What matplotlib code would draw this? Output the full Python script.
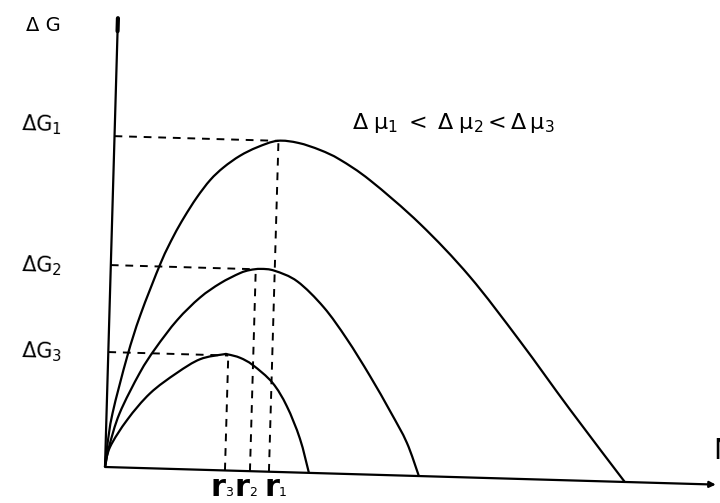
import matplotlib
matplotlib.use("Agg")
import matplotlib.pyplot as plt
from matplotlib.path import Path
from matplotlib.patches import PathPatch
from matplotlib.transforms import Affine2D

# values, in chart units (pixels along the tilted axes)
n1 = [0, 1.5, 6, 19, 31, 50, 62, 72, 84, 97, 110, 126, 143, 163, 184, 206, 226, 257, 308, 359, 411, 463, 520]
g1 = [0, 20, 54, 111, 153, 206, 233, 252, 272, 290, 303, 315, 324, 331, 329.5, 323, 314, 294, 252, 201, 138, 71, 0]

n2 = [0, 3.4, 13, 32, 47, 68, 90, 110, 129, 139, 150, 164, 187, 214, 238, 262, 284, 301, 314]
g2 = [0, 20, 54, 95, 120, 149, 172, 187, 197.5, 201, 202.5, 201, 191, 166, 135, 99, 63, 33, 0]

n3 = [0, 4.4, 21, 43, 69, 92, 115, 120, 132, 145, 165, 180, 194, 204]
g3 = [0, 20, 48, 75, 96, 110.5, 116, 116, 113, 106, 89, 66, 34, 0]

peak_n = [164, 145, 120]     # r1, r2, r3
peak_g = [331, 202, 115]     # dG1, dG2, dG3
g_labels = [r"$\mathregular{\Delta G_1}$", r"$\mathregular{\Delta G_2}$", r"$\mathregular{\Delta G_3}$"]
r_subs = ["1", "2", "3"]

tilt = 1.65


def smooth_path(xs, ys):
    # cubic bezier through the read points (catmull-rom handles)
    pts = list(zip(xs, ys))
    verts = [pts[0]]
    codes = [Path.MOVETO]
    for i in range(len(pts) - 1):
        p0 = pts[max(i - 1, 0)]
        p1 = pts[i]
        p2 = pts[i + 1]
        p3 = pts[min(i + 2, len(pts) - 1)]
        c1 = (p1[0] + (p2[0] - p0[0]) / 6, p1[1] + (p2[1] - p0[1]) / 6)
        c2 = (p2[0] - (p3[0] - p1[0]) / 6, p2[1] - (p3[1] - p1[1]) / 6)
        verts += [c1, c2, p2]
        codes += [Path.CURVE4] * 3
    return Path(verts, codes)


fig = plt.figure(figsize=(7.2, 5.03), dpi=100)
ax = fig.add_axes([0, 0, 1, 1])
ax.set_xlim(0, 720)
ax.set_ylim(0, 503)
ax.axis("off")

T = Affine2D().rotate_deg(-tilt).translate(105, 36) + ax.transData

# axes
ax.plot([0, 0], [0, 449], color="black", lw=1.6, transform=T, solid_capstyle="butt")
ax.plot([0, 0], [436, 449], color="black", lw=3.0, transform=T, solid_capstyle="round")
ax.annotate("", xy=(611, 0), xytext=(0, 0), xycoords=T, textcoords=T,
            arrowprops=dict(arrowstyle="-|>", lw=1.6, color="black", mutation_scale=9,
                            shrinkA=0, shrinkB=0))

# curves
for n, g in [(n1, g1), (n2, g2), (n3, g3)]:
    ax.add_patch(PathPatch(smooth_path(n, g), facecolor="none", edgecolor="black",
                           lw=1.6, transform=T))

# dashed guides
for pn, pg in zip(peak_n, peak_g):
    ax.plot([0, pn], [pg, pg], color="black", lw=1.4, ls=(0, (4, 3.5)), transform=T)
    ax.plot([pn, pn], [0, pg], color="black", lw=1.4, ls=(0, (4, 3.5)), transform=T)

# labels
ax.text(43, 478, "Δ G", fontsize=14, ha="center", va="center")
label_y = [378, 237, 151]
for lab, y in zip(g_labels, label_y):
    ax.text(62, y, lab, fontsize=15, ha="right", va="center", rotation=-tilt)

ax.text(352, 380, r"$\mathregular{\Delta\;\mu_1 \;<\; \Delta\;\mu_2 < \Delta\,\mu_3}$",
        fontsize=16, ha="left", va="center")

r_x = [272, 242, 218]
for x, s in zip(r_x, r_subs):
    ax.text(x, 16, "r", fontsize=22, fontweight="bold", ha="center", va="center")
    ax.text(x + 11, 11, s, fontsize=9, ha="center", va="center")

# axis name, cut by the right edge as in the scan
ax.text(713, 52, "N", fontsize=20, ha="left", va="center")

fig.savefig("out.png", dpi=100)
